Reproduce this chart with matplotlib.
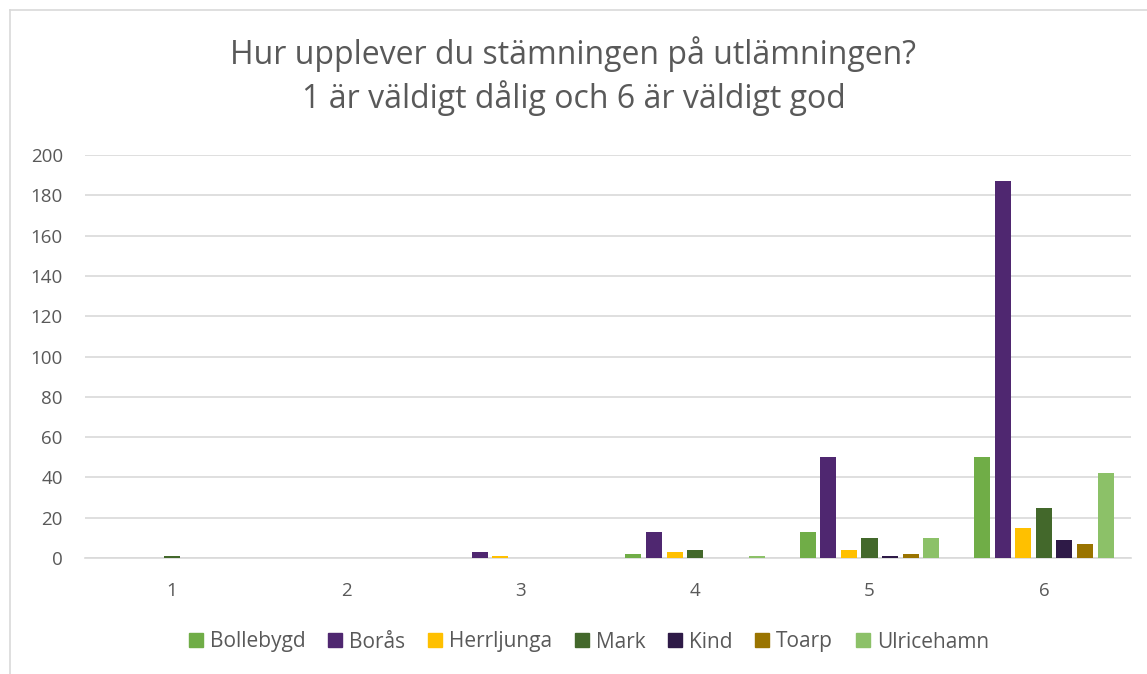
import numpy as np
import matplotlib.pyplot as plt
from matplotlib.lines import Line2D

# Data
categories = ["1", "2", "3", "4", "5", "6"]
series_names = ["Bollebygd", "Borås", "Herrljunga", "Mark", "Kind", "Toarp", "Ulricehamn"]
bollebygd = [0, 0, 0, 2, 13, 50]
boras = [0, 0, 3, 13, 50, 187]
herrljunga = [0, 0, 1, 3, 4, 15]
mark = [1, 0, 0, 4, 10, 25]
kind = [0, 0, 0, 0, 1, 9]
toarp = [0, 0, 0, 0, 2, 7]
ulricehamn = [0, 0, 0, 1, 10, 42]
yticks = [0, 20, 40, 60, 80, 100, 120, 140, 160, 180, 200]

colors = ["#70AD47", "#4F2770", "#FFC000", "#43682B", "#2E1A47", "#9A7400", "#8CC168"]
series = [bollebygd, boras, herrljunga, mark, kind, toarp, ulricehamn]

plt.rcParams['font.family'] = ['Open Sans', 'DejaVu Sans']

fig = plt.figure(figsize=(11.47, 6.74), dpi=100)
W, H = 1147, 674
ax = fig.add_axes([85 / W, 1 - 558 / H, (1131 - 85) / W, (558 - 155) / H])

x = np.arange(len(categories))
pitch = 0.118
bw = 0.092
for i, (vals, c) in enumerate(zip(series, colors)):
    ax.bar(x + (i - 3) * pitch, vals, width=bw, color=c, label=series_names[i], zorder=3)

ax.set_xlim(-0.5, 5.5)
ax.set_ylim(0, 200)
ax.set_yticks(yticks)
ax.set_xticks(x)
ax.set_xticklabels(categories)
ax.tick_params(axis='both', length=0, labelsize=13.5, colors="#595959")
ax.tick_params(axis='x', pad=17)
ax.tick_params(axis='y', pad=16)
ax.grid(axis='y', color="#D9D9D9", linewidth=1.2, zorder=0)
for s in ["top", "right", "left"]:
    ax.spines[s].set_visible(False)
ax.spines["bottom"].set_color("#D9D9D9")
ax.spines["bottom"].set_linewidth(1.2)

fig.text(0.5, 1 - 76 / H, "Hur upplever du stämningen på utlämningen?\n1 är väldigt dålig och 6 är väldigt god",
         ha='center', va='center', fontsize=23, color="#595959", linespacing=1.3)

handles = [Line2D([0], [0], marker='s', linestyle='', markersize=10, color=c) for c in colors]
fig.legend(handles, series_names, loc='center', bbox_to_anchor=(0.513, 1 - 642 / H), ncol=7,
           frameon=False, fontsize=15, labelcolor="#595959", handlelength=0.75,
           handletextpad=0.3, columnspacing=1.05)

# chart border
fig.add_artist(Line2D([10 / W, 10 / W], [0, 1 - 10 / H], color="#D9D9D9", linewidth=1.2))
fig.add_artist(Line2D([10 / W, 1], [1 - 10 / H, 1 - 10 / H], color="#D9D9D9", linewidth=1.2))

fig.savefig("out.png", dpi=100)
